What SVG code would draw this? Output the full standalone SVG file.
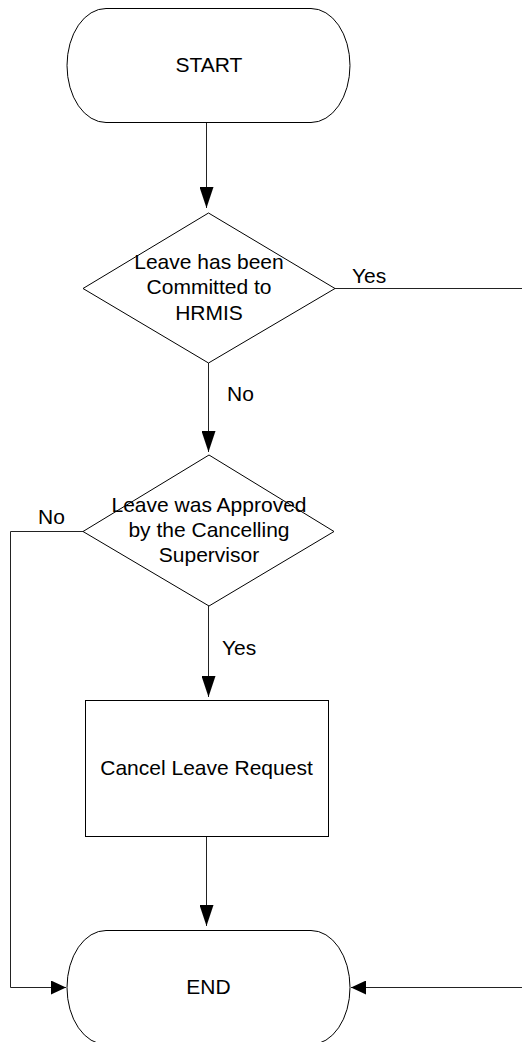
<svg xmlns="http://www.w3.org/2000/svg" width="522" height="1042" viewBox="0 0 522 1042">
  <style>
    .shape { fill: #ffffff; stroke: #000000; stroke-width: 1; }
    .conn { fill: none; stroke: #222222; stroke-width: 1; }
    .t { font-family: "Liberation Sans", Arial, sans-serif; font-size: 21px; fill: #000000; }
    .c { text-anchor: middle; }
  </style>
  <defs>
    <marker id="arrV" markerUnits="userSpaceOnUse" markerWidth="21" markerHeight="14" refX="21" refY="7" orient="auto">
      <path d="M0,0 L21,7 L0,14 Z" fill="#000000"/>
    </marker>
    <marker id="arrH" markerUnits="userSpaceOnUse" markerWidth="15" markerHeight="14" refX="15" refY="7" orient="auto">
      <path d="M0,0 L15,7 L0,14 Z" fill="#000000"/>
    </marker>
  </defs>
  <rect x="0" y="0" width="522" height="1042" fill="#ffffff"/>

  <g id="connectors">
    <path class="conn" d="M206.5,122 V208" marker-end="url(#arrV)"/>
    <path class="conn" d="M208.5,363 V452" marker-end="url(#arrV)"/>
    <path class="conn" d="M335,288.5 H522"/>
    <path class="conn" d="M83,531.5 H10.5 V987.5 H66" marker-end="url(#arrH)"/>
    <path class="conn" d="M208.5,606 V697" marker-end="url(#arrV)"/>
    <path class="conn" d="M206.5,837 V926" marker-end="url(#arrV)"/>
    <path class="conn" d="M522,987.5 H351" marker-end="url(#arrH)"/>
    <text class="t" x="352" y="283">Yes</text>
    <text class="t" x="227" y="401">No</text>
    <text class="t" x="38" y="524">No</text>
    <text class="t" x="222" y="655">Yes</text>
  </g>

  <g id="start">
    <path class="shape" d="M106,8.5 H311 A39,57 0 0 1 311,122.5 H106 A39,57 0 0 1 106,8.5 Z"/>
    <text class="t c" x="209" y="72">START</text>
  </g>

  <g id="decision1">
    <polygon class="shape" points="208.5,213 335,288.5 208.5,363 83,288.5"/>
    <text class="t c" x="209" y="268.5">Leave has been</text>
    <text class="t c" x="209" y="294">Committed to</text>
    <text class="t c" x="209" y="319.5">HRMIS</text>
  </g>

  <g id="decision2">
    <polygon class="shape" points="209,455 334,531.5 209,606 83,531.5"/>
    <text class="t c" x="209" y="511.5">Leave was Approved</text>
    <text class="t c" x="209" y="536.5">by the Cancelling</text>
    <text class="t c" x="209" y="561.5">Supervisor</text>
  </g>

  <g id="cancel">
    <rect class="shape" x="85.5" y="700.5" width="243" height="136"/>
    <text class="t c" x="206.5" y="775">Cancel Leave Request</text>
  </g>

  <g id="end">
    <path class="shape" d="M106,930.5 H311 A39,57 0 0 1 311,1044.5 H106 A39,57 0 0 1 106,930.5 Z"/>
    <text class="t c" x="208.5" y="994">END</text>
  </g>
</svg>
